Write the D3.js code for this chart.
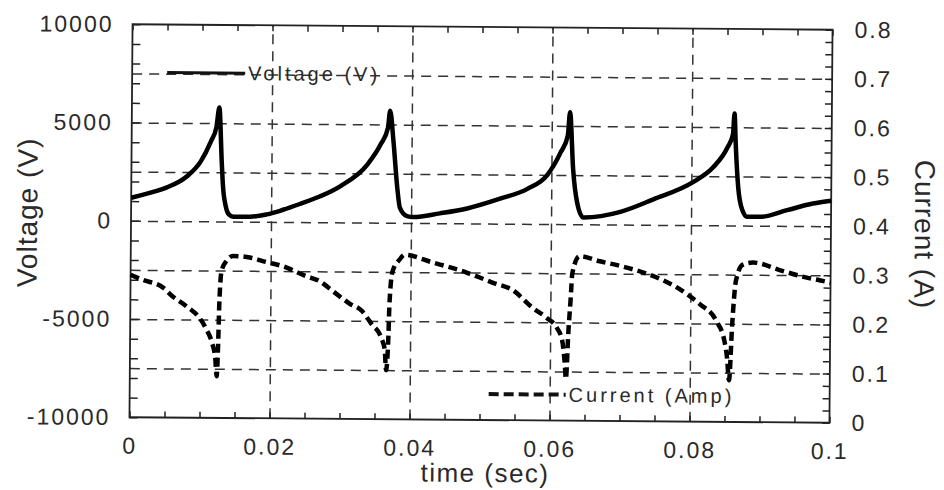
<!DOCTYPE html>
<html>
<head>
<meta charset="utf-8">
<script src="https://cdn.jsdelivr.net/npm/d3@7"></script>
<style>
  html, body { margin: 0; padding: 0; background: #fff; }
  svg { display: block; }
  text { font-family: "Liberation Sans", Arial, Helvetica, sans-serif; fill: #2a2a2a; }
</style>
</head>
<body>
<svg id="chart" width="944" height="490"></svg>
<script>
// ---------- data ----------
const timeTicks = [0, 0.02, 0.04, 0.06, 0.08, 0.1];
const timeTickLabels = ["0", "0.02", "0.04", "0.06", "0.08", "0.1"];
const voltageTicks = [-10000, -5000, 0, 5000, 10000];
const voltageTickLabels = ["-10000", "-5000", "0", "5000", "10000"];
const currentTicks = [0, 0.1, 0.2, 0.3, 0.4, 0.5, 0.6, 0.7, 0.8];
const currentTickLabels = ["0", "0.1", "0.2", "0.3", "0.4", "0.5", "0.6", "0.7", "0.8"];

const voltageTime = [0, 0.0034, 0.005, 0.008, 0.0099, 0.0113, 0.0121, 0.0125, 0.0129, 0.0131, 0.0135, 0.014, 0.0146, 0.017, 0.0194, 0.0217, 0.0241, 0.027, 0.0299, 0.0337, 0.0356, 0.0366, 0.0369, 0.0374, 0.038, 0.0384, 0.0394, 0.0403, 0.0441, 0.048, 0.0527, 0.0566, 0.0594, 0.0613, 0.0623, 0.0626, 0.0631, 0.0637, 0.0646, 0.0699, 0.0746, 0.0803, 0.0831, 0.0851, 0.0859, 0.0861, 0.0863, 0.0867, 0.0873, 0.088, 0.0899, 0.0937, 0.0974, 0.1];
const voltageValue = [1170, 1500, 1700, 2300, 3050, 4050, 4800, 5800, 3000, 1800, 800, 350, 250, 250, 380, 620, 920, 1320, 1850, 2950, 4000, 4820, 5700, 4160, 1780, 760, 350, 300, 500, 760, 1270, 1780, 2490, 3650, 4500, 5700, 2800, 1120, 350, 650, 1300, 2200, 2950, 3950, 4650, 5700, 4150, 1950, 800, 450, 450, 800, 1150, 1300];

const currentTime = [0, 0.0017, 0.0046, 0.006, 0.008, 0.0099, 0.0109, 0.0117, 0.0122, 0.0124, 0.0126, 0.0127, 0.013, 0.0137, 0.0146, 0.017, 0.0194, 0.0217, 0.0251, 0.027, 0.0289, 0.0313, 0.0331, 0.0344, 0.0359, 0.0364, 0.0366, 0.0369, 0.037, 0.0374, 0.0384, 0.0391, 0.0431, 0.048, 0.0517, 0.0546, 0.0574, 0.0594, 0.0609, 0.0617, 0.0621, 0.0623, 0.0626, 0.0629, 0.0631, 0.0641, 0.067, 0.0699, 0.0746, 0.0784, 0.0813, 0.0837, 0.0849, 0.0853, 0.0856, 0.086, 0.0864, 0.0867, 0.0874, 0.0889, 0.0927, 0.0966, 0.0984, 0.1];
const currentValue = [0.29, 0.28, 0.265, 0.247, 0.227, 0.203, 0.18, 0.153, 0.12, 0.085, 0.16, 0.23, 0.30, 0.32, 0.33, 0.327, 0.318, 0.31, 0.29, 0.28, 0.26, 0.235, 0.22, 0.195, 0.165, 0.14, 0.10, 0.17, 0.23, 0.30, 0.325, 0.335, 0.32, 0.30, 0.28, 0.265, 0.23, 0.21, 0.19, 0.165, 0.12, 0.085, 0.18, 0.25, 0.30, 0.335, 0.325, 0.316, 0.296, 0.27, 0.24, 0.206, 0.165, 0.13, 0.085, 0.2, 0.28, 0.30, 0.32, 0.325, 0.31, 0.295, 0.29, 0.285];

const gridTime = [0.02, 0.04, 0.06, 0.08];
const gridVoltage = [-7500, -5000, -2500, 0, 2500, 5000, 7500];
const minorTime = d3.range(0, 0.1001, 0.005);
const minorVoltage = d3.range(-10000, 10001, 1000);
const minorCurrent = d3.range(0, 0.8001, 0.025);

const legendLabels = ["Voltage (V)", "Current (Amp)"];

// ---------- layout ----------
const L = 131, R = 831, T = 27, B = 420;
const svg = d3.select("#chart");
svg.append("rect").attr("width", 944).attr("height", 490).attr("fill", "#fff");
const g = svg.append("g").attr("transform", "rotate(0.45, 481, 223.5)");

const x = d3.scaleLinear().domain([0, 0.1]).range([L, R]);
const yV = d3.scaleLinear().domain([-10000, 10000]).range([B, T]);
const yA = d3.scaleLinear().domain([0, 0.8]).range([B, T]);

// ---------- grid ----------
const gx = g.append("g").attr("transform", `translate(0,${B})`)
  .call(d3.axisBottom(x).tickValues(gridTime).tickSize(-(B - T)).tickFormat(""));
const gy = g.append("g").attr("transform", `translate(${L},0)`)
  .call(d3.axisLeft(yV).tickValues(gridVoltage).tickSize(-(R - L)).tickFormat(""));
[gx, gy].forEach(s => {
  s.select(".domain").remove();
  s.selectAll("line").attr("stroke", "#333").attr("stroke-width", 1.5).attr("stroke-dasharray", "10,7");
});

// ---------- minor ticks ----------
function minor(sel) { sel.select(".domain").remove(); sel.selectAll("line").attr("stroke", "#222").attr("stroke-width", 1.5); }
g.append("g").attr("transform", `translate(0,${B})`)
  .call(d3.axisBottom(x).tickValues(minorTime).tickSize(-6).tickFormat("")).call(minor);
g.append("g").attr("transform", `translate(0,${T})`)
  .call(d3.axisTop(x).tickValues(minorTime).tickSize(-6).tickFormat("")).call(minor);
g.append("g").attr("transform", `translate(${L},0)`)
  .call(d3.axisLeft(yV).tickValues(minorVoltage).tickSize(-8).tickFormat("")).call(minor);
g.append("g").attr("transform", `translate(${R},0)`)
  .call(d3.axisRight(yA).tickValues(minorCurrent).tickSize(-7).tickFormat("")).call(minor);

// ---------- frame ----------
g.append("rect").attr("x", L).attr("y", T).attr("width", R - L).attr("height", B - T)
  .attr("fill", "none").attr("stroke", "#222").attr("stroke-width", 1.8);

// ---------- tick labels ----------
function labels(sel) { sel.select(".domain").remove(); sel.selectAll("line").remove();
  sel.selectAll("text").attr("font-size", 23).attr("letter-spacing", 2).attr("fill", "#2a2a2a")
     .attr("font-family", "Liberation Sans, Arial, sans-serif"); }
g.append("g").attr("transform", `translate(0,${B})`)
  .call(d3.axisBottom(x).tickValues(timeTicks).tickSize(0).tickPadding(20)
    .tickFormat((d, i) => timeTickLabels[i])).call(labels);
g.append("g").attr("transform", `translate(${L},0)`)
  .call(d3.axisLeft(yV).tickValues(voltageTicks).tickSize(0).tickPadding(19)
    .tickFormat((d, i) => voltageTickLabels[i])).call(labels);
g.append("g").attr("transform", `translate(${R},0)`)
  .call(d3.axisRight(yA).tickValues(currentTicks).tickSize(0).tickPadding(22)
    .tickFormat((d, i) => currentTickLabels[i])).call(labels);

// ---------- axis titles ----------
g.append("text").attr("transform", "translate(37,216) rotate(-90)")
  .attr("text-anchor", "middle").attr("font-size", 28).attr("letter-spacing", 1).text("Voltage (V)");
g.append("text").attr("transform", "translate(915,231) rotate(90)")
  .attr("text-anchor", "middle").attr("font-size", 28).attr("letter-spacing", 1).text("Current (A)");
g.append("text").attr("x", 487).attr("y", 482)
  .attr("text-anchor", "middle").attr("font-size", 26).attr("letter-spacing", 1.5).text("time (sec)");

// ---------- series ----------
const vData = voltageTime.map((t, i) => [t, voltageValue[i]]);
const aData = currentTime.map((t, i) => [t, currentValue[i]]);
g.append("path").datum(vData)
  .attr("d", d3.line().curve(d3.curveMonotoneX).x(d => x(d[0])).y(d => yV(d[1])))
  .attr("fill", "none").attr("stroke", "#000").attr("stroke-width", 4.5).attr("stroke-linejoin", "round");
g.append("path").datum(aData)
  .attr("d", d3.line().curve(d3.curveMonotoneX).x(d => x(d[0])).y(d => yA(d[1])))
  .attr("fill", "none").attr("stroke", "#000").attr("stroke-width", 4.5).attr("stroke-dasharray", "9,5");

// ---------- legend ----------
g.append("line").attr("x1", 166).attr("x2", 244).attr("y1", 75).attr("y2", 75)
  .attr("stroke", "#111").attr("stroke-width", 3);
g.append("text").attr("x", 247).attr("y", 75).attr("dy", "0.35em")
  .attr("font-size", 20).attr("letter-spacing", 3).text(legendLabels[0]);
g.append("line").attr("x1", 490).attr("x2", 567).attr("y1", 394).attr("y2", 394)
  .attr("stroke", "#111").attr("stroke-width", 4).attr("stroke-dasharray", "10,5");
g.append("text").attr("x", 570).attr("y", 394).attr("dy", "0.35em")
  .attr("font-size", 20).attr("letter-spacing", 3).text(legendLabels[1]);
</script>
</body>
</html>
